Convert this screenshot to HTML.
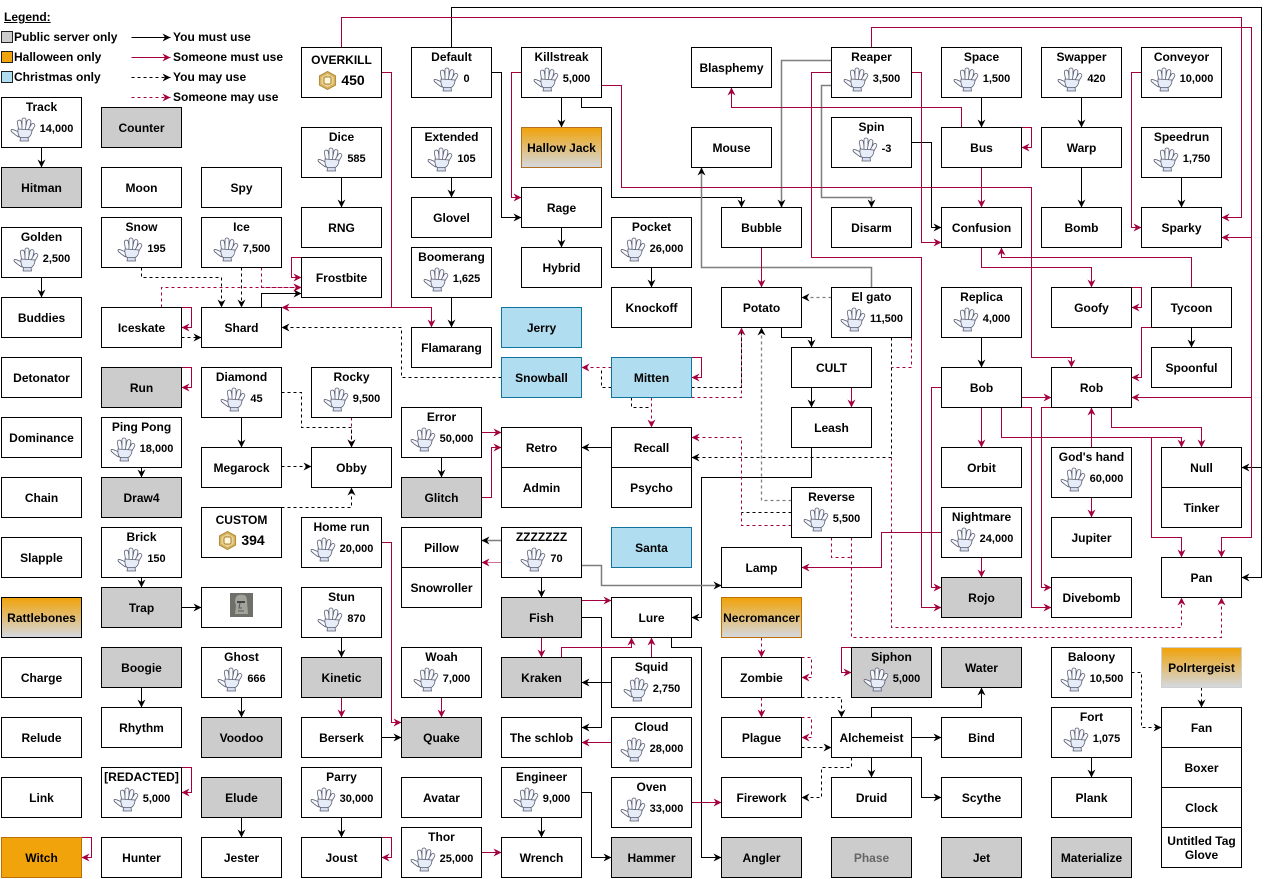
<!DOCTYPE html>
<html><head><meta charset="utf-8">
<style>
body{margin:0;width:1270px;height:879px;background:#fff;position:relative;overflow:hidden;font-family:"Liberation Sans",Arial,sans-serif;font-weight:bold;color:#000}
.b{position:absolute;width:81px;height:41px;box-sizing:border-box;border:1px solid #000;background:#fff;display:flex;align-items:center;justify-content:center;text-align:center;font-size:12px;line-height:14px}
.g{height:51px;display:block}
.g .t{position:absolute;left:0;right:0;top:2px;text-align:center;white-space:nowrap}
.g .r{position:absolute;left:0;right:0;top:18px;height:26px;display:flex;align-items:center;justify-content:center;font-size:11px}
.gi{width:27px;height:25px;margin-right:3px;flex:none}
.x .t{top:5px}
.x .r{top:22px;height:20px;font-size:14px}
.ri{width:19px;height:19px;margin-right:4px;flex:none}
.gr{background:#ccc}
.bl{background:#b1ddf0;border-color:#10739e}
.or{background:#f0a30a;border-color:#bd7000}
.gd{background:linear-gradient(#f0a30a,#d4d8e0)}
.lg{position:absolute;font-size:12px;line-height:14px;white-space:nowrap}
.sq{position:absolute;width:12px;height:12px;box-sizing:border-box;border:1.5px solid #222}
</style></head><body>
<svg width="0" height="0" style="position:absolute"><defs>
<symbol id="gl" viewBox="0 0 27 25"><g stroke="#5a5f70" stroke-width="0.8" fill="#f7f9fe" stroke-linejoin="round">
<path d="M9 15 C6 14 3 12 1.5 12.5 C0.5 13 1 14.5 2.5 15.5 C4.5 17 6.5 19 9 20 Z"/>
<rect x="8" y="3" width="4" height="11" rx="2" transform="rotate(-10 10 9)"/>
<rect x="12" y="1" width="4" height="13" rx="2"/>
<rect x="16" y="2.5" width="4" height="12" rx="2" transform="rotate(12 18 9)"/>
<rect x="19.5" y="6" width="3.8" height="10" rx="1.9" transform="rotate(30 21.4 11)"/>
<path d="M8 12 L22 13 C22 17 20 20 17 21 L11 21 C8.5 20 7.5 16 8 12 Z" fill="#e6ecf8"/>
<path d="M10.5 20.5 L18 20.5 L18.5 24 L10 24 Z" fill="#d6def0"/></g></symbol>
<symbol id="rb" viewBox="0 0 20 20"><polygon points="10,0.5 18.5,5.2 18.5,14.8 10,19.5 1.5,14.8 1.5,5.2" fill="#d6b25e" stroke="#b08a38"/><polygon points="10,3 16.3,6.5 16.3,13.5 10,17 3.7,13.5 3.7,6.5" fill="#ead49a"/><rect x="6.3" y="6.3" width="7.4" height="7.4" rx="1.6" fill="#fff7e0" stroke="#b08a38" stroke-width="1.2"/></symbol>
<marker id="ak" markerWidth="9" markerHeight="9" refX="8" refY="4.5" orient="auto" markerUnits="userSpaceOnUse"><path d="M0,0.5 L8,4.5 L0,8.5 L2.5,4.5z" fill="#000"/></marker>
<marker id="ac" markerWidth="9" markerHeight="9" refX="8" refY="4.5" orient="auto" markerUnits="userSpaceOnUse"><path d="M0,0.5 L8,4.5 L0,8.5 L2.5,4.5z" fill="#a50040"/></marker>
</defs></svg>

<svg width="1270" height="879" style="position:absolute;left:0;top:0">
<g transform="translate(0.5,0.5)" fill="none" stroke-width="1">
<g stroke="#000" marker-end="url(#ak)">
<path d="M131 37H170"/>
<path d="M41 147V167"/><path d="M41 277V297"/><path d="M141 467V477"/><path d="M141 577V587"/><path d="M181 607H201"/><path d="M141 687V707"/><path d="M241 697V717"/><path d="M241 817V837"/><path d="M241 417V447"/><path d="M341 177V207"/><path d="M341 637V657"/><path d="M381 737H401"/><path d="M341 817V837"/><path d="M451 177V197"/><path d="M451 297V327"/><path d="M491 72H501V217H521"/><path d="M561 97V127"/><path d="M561 227V247"/><path d="M451 47V7H1261V577H1241"/><path d="M1261 467H1241"/><path d="M581 97V107H611V197H741V207"/><path d="M441 457V477"/><path d="M611 447H581"/><path d="M541 577V597"/><path d="M581 617H601V727H581"/><path d="M611 682H581"/><path d="M541 817V837"/><path d="M581 792H591V857H611"/><path d="M651 267V287"/><path d="M781 327V337H811V347"/><path d="M811 387V407"/><path d="M811 447V477H701V617H691"/><path d="M671 637V647H701V857H721"/><path d="M911 142H931V227H941"/><path d="M981 97V127"/><path d="M1081 97V127"/><path d="M1081 167V207"/><path d="M1181 177V207"/><path d="M981 337V367"/><path d="M1191 327V347"/><path d="M871 717V707H981V687"/><path d="M911 737H941"/><path d="M871 757V777"/><path d="M911 757H921V797H941"/><path d="M1091 757V777"/><path d="M261 307V293H301"/>
</g>
<g stroke="#7f7f7f" stroke-width="1.5" marker-end="url(#ak)">
<path d="M831 60H781V207"/><path d="M831 85H821V197H871V207"/><path d="M871 287V267H701V167"/><path d="M501 540H481"/><path d="M581 565H601V585H721"/>
</g>
<g stroke="#a50040" marker-end="url(#ac)">
<path d="M131 57H170"/>
<path d="M381 72H391V307H431V327"/><path d="M391 307H281"/><path d="M341 47V17H1241V217H1221"/><path d="M381 542H391V722H401"/><path d="M181 307H191V327H181"/><path d="M181 367H191V387H181"/><path d="M181 767H191V792H181"/><path d="M81 837H91V857H81"/><path d="M381 837H391V857H381"/><path d="M301 257H291V277H301"/><path d="M341 697V717"/><path d="M441 697V717"/><path d="M481 852H501"/><path d="M521 72H511V197H521"/><path d="M601 85H621V187H1031V357H1071V367"/><path d="M481 432H501"/><path d="M481 497H491V447H501"/><path d="M761 247V287"/><path d="M851 387V407"/><path d="M691 357H701V377H691"/><path d="M541 637V657"/><path d="M581 600H611"/><path d="M561 657V647H631V637"/><path d="M651 657V637"/><path d="M611 742H581"/><path d="M691 802H721"/><path d="M851 647H841V672H851"/><path d="M911 72H921V242H941"/><path d="M831 72H811V257H921V607H941"/><path d="M871 47V27H1251V237H1221"/><path d="M1251 237V397H1131"/><path d="M1251 397V537H1221V557"/><path d="M961 127V107H731V87"/><path d="M1021 127H1031V147H1021"/><path d="M981 167V207"/><path d="M1141 72H1131V227H1141"/><path d="M1191 287V257H1001V247"/><path d="M981 247V267H1091V287"/><path d="M1131 287H1141V307H1131"/><path d="M1151 327H1141V377H1131"/><path d="M981 407V447"/><path d="M1021 397H1051"/><path d="M1001 407V437H1181V447"/><path d="M1151 437V537H1181V557"/><path d="M1111 407V427H1201V447"/><path d="M1021 407H1031V607H1051"/><path d="M1051 407H1041V587H1051"/><path d="M1091 447V407"/><path d="M1091 497V517"/><path d="M981 557V577"/><path d="M941 387H931V587H941"/><path d="M941 532H881V567H801"/><path d="M501 562H481" stroke="#d0709a"/>
</g>
<g stroke="#a50040" stroke-dasharray="3 3">
<path d="M131 97H170" marker-end="url(#ac)"/>
<path d="M261 267V287H301" marker-end="url(#ac)"/><path d="M161 307V287H301" marker-end="url(#ac)"/><path d="M351 417V447" marker-end="url(#ac)"/><path d="M691 397H741V327" marker-end="url(#ac)"/><path d="M651 397V427" marker-end="url(#ac)"/><path d="M611 367H581" marker-end="url(#ac)"/><path d="M791 525H741V437H691" marker-end="url(#ac)"/><path d="M911 337V367H891"/><path d="M891 367V627H1181V597" marker-end="url(#ac)"/><path d="M851 537V637H1221V597" marker-end="url(#ac)"/><path d="M831 537V557H851"/><path d="M761 637V657" marker-end="url(#ac)"/><path d="M761 697V717" marker-end="url(#ac)"/><path d="M801 657H811V677H801" marker-end="url(#ac)"/><path d="M801 717H811V737H801" marker-end="url(#ac)"/><path d="M851 757V767H821"/>
</g>
<g stroke="#000" stroke-dasharray="3 3">
<path d="M131 77H170" marker-end="url(#ak)"/>
<path d="M141 267V277H221V307" marker-end="url(#ak)"/><path d="M241 267V307" marker-end="url(#ak)"/><path d="M181 337H201" marker-end="url(#ak)"/><path d="M501 377H401V327H281" marker-end="url(#ak)"/><path d="M281 392H301V427H351V447" marker-end="url(#ak)"/><path d="M281 466H311" marker-end="url(#ak)"/><path d="M281 507H351V487" marker-end="url(#ak)"/><path d="M691 387H741V332"/><path d="M631 397V407H651"/><path d="M611 387H601V367"/><path d="M891 337V457H691" marker-end="url(#ak)"/><path d="M791 512H741"/><path d="M801 697H841V717" marker-end="url(#ak)"/><path d="M801 747H831" marker-end="url(#ak)"/><path d="M851 757V767H821V797H801" marker-end="url(#ak)"/><path d="M1131 672H1141V727H1161" marker-end="url(#ak)"/><path d="M1201 687V707" marker-end="url(#ak)"/>
</g>
<g stroke="#7f7f7f" stroke-dasharray="3 3" stroke-width="1.3" marker-end="url(#ak)">
<path d="M831 297H801"/><path d="M791 500H761V327"/>
</g>
</g></svg>

<div class="lg" style="left:4px;top:10px;text-decoration:underline">Legend:</div>
<div class="sq" style="left:1px;top:31px;background:#ccc"></div><div class="lg" style="left:14px;top:30px">Public server only</div>
<div class="sq" style="left:1px;top:51px;background:#f0a30a"></div><div class="lg" style="left:14px;top:50px">Halloween only</div>
<div class="sq" style="left:1px;top:71px;background:#b1ddf0"></div><div class="lg" style="left:14px;top:70px">Christmas only</div>
<div class="lg" style="left:173px;top:30px">You must use</div>
<div class="lg" style="left:173px;top:50px">Someone must use</div>
<div class="lg" style="left:173px;top:70px">You may use</div>
<div class="lg" style="left:173px;top:90px">Someone may use</div>

<div class="b gr" style="left:1px;top:167px">Hitman</div>
<div class="b" style="left:1px;top:297px">Buddies</div>
<div class="b" style="left:1px;top:357px">Detonator</div>
<div class="b" style="left:1px;top:417px">Dominance</div>
<div class="b" style="left:1px;top:477px">Chain</div>
<div class="b" style="left:1px;top:537px">Slapple</div>
<div class="b gd" style="left:1px;top:597px">Rattlebones</div>
<div class="b" style="left:1px;top:657px">Charge</div>
<div class="b" style="left:1px;top:717px">Relude</div>
<div class="b" style="left:1px;top:777px">Link</div>
<div class="b or" style="left:1px;top:837px">Witch</div>
<div class="b gr" style="left:101px;top:107px">Counter</div>
<div class="b" style="left:101px;top:167px">Moon</div>
<div class="b" style="left:101px;top:307px">Iceskate</div>
<div class="b gr" style="left:101px;top:367px">Run</div>
<div class="b gr" style="left:101px;top:477px">Draw4</div>
<div class="b gr" style="left:101px;top:587px">Trap</div>
<div class="b gr" style="left:101px;top:647px">Boogie</div>
<div class="b" style="left:101px;top:707px">Rhythm</div>
<div class="b" style="left:101px;top:837px">Hunter</div>
<div class="b" style="left:201px;top:167px">Spy</div>
<div class="b" style="left:201px;top:307px">Shard</div>
<div class="b" style="left:201px;top:447px">Megarock</div>
<div class="b" style="left:201px;top:587px"></div>
<div class="b gr" style="left:201px;top:717px">Voodoo</div>
<div class="b gr" style="left:201px;top:777px">Elude</div>
<div class="b" style="left:201px;top:837px">Jester</div>
<div class="b" style="left:301px;top:207px">RNG</div>
<div class="b" style="left:301px;top:257px">Frostbite</div>
<div class="b" style="left:311px;top:447px">Obby</div>
<div class="b gr" style="left:301px;top:657px">Kinetic</div>
<div class="b" style="left:301px;top:717px">Berserk</div>
<div class="b" style="left:301px;top:837px">Joust</div>
<div class="b" style="left:411px;top:197px">Glovel</div>
<div class="b" style="left:411px;top:327px">Flamarang</div>
<div class="b gr" style="left:401px;top:477px">Glitch</div>
<div class="b" style="left:401px;top:527px">Pillow</div>
<div class="b" style="left:401px;top:567px">Snowroller</div>
<div class="b gr" style="left:401px;top:717px">Quake</div>
<div class="b" style="left:401px;top:777px">Avatar</div>
<div class="b gd" style="left:521px;top:127px;border-color:#b07020">Hallow Jack</div>
<div class="b" style="left:521px;top:187px">Rage</div>
<div class="b" style="left:521px;top:247px">Hybrid</div>
<div class="b bl" style="left:501px;top:307px">Jerry</div>
<div class="b bl" style="left:501px;top:357px">Snowball</div>
<div class="b" style="left:501px;top:427px">Retro</div>
<div class="b" style="left:501px;top:467px">Admin</div>
<div class="b gr" style="left:501px;top:597px">Fish</div>
<div class="b gr" style="left:501px;top:657px">Kraken</div>
<div class="b" style="left:501px;top:717px">The schlob</div>
<div class="b" style="left:501px;top:837px">Wrench</div>
<div class="b" style="left:611px;top:287px">Knockoff</div>
<div class="b bl" style="left:611px;top:357px">Mitten</div>
<div class="b" style="left:611px;top:427px">Recall</div>
<div class="b" style="left:611px;top:467px">Psycho</div>
<div class="b bl" style="left:611px;top:527px">Santa</div>
<div class="b" style="left:611px;top:597px">Lure</div>
<div class="b gr" style="left:611px;top:837px">Hammer</div>
<div class="b" style="left:691px;top:47px">Blasphemy</div>
<div class="b" style="left:691px;top:127px">Mouse</div>
<div class="b" style="left:721px;top:207px">Bubble</div>
<div class="b" style="left:721px;top:287px">Potato</div>
<div class="b" style="left:721px;top:547px">Lamp</div>
<div class="b gd" style="left:721px;top:597px;border-color:#c07000">Necromancer</div>
<div class="b" style="left:721px;top:657px">Zombie</div>
<div class="b" style="left:721px;top:717px">Plague</div>
<div class="b" style="left:721px;top:777px">Firework</div>
<div class="b gr" style="left:721px;top:837px">Angler</div>
<div class="b" style="left:791px;top:347px">CULT</div>
<div class="b" style="left:791px;top:407px">Leash</div>
<div class="b" style="left:831px;top:207px">Disarm</div>
<div class="b" style="left:831px;top:717px">Alchemeist</div>
<div class="b" style="left:831px;top:777px">Druid</div>
<div class="b gr" style="left:831px;top:837px;color:#666">Phase</div>
<div class="b" style="left:941px;top:127px">Bus</div>
<div class="b" style="left:941px;top:207px">Confusion</div>
<div class="b" style="left:941px;top:367px">Bob</div>
<div class="b" style="left:941px;top:447px">Orbit</div>
<div class="b gr" style="left:941px;top:577px">Rojo</div>
<div class="b gr" style="left:941px;top:647px">Water</div>
<div class="b" style="left:941px;top:717px">Bind</div>
<div class="b" style="left:941px;top:777px">Scythe</div>
<div class="b gr" style="left:941px;top:837px">Jet</div>
<div class="b" style="left:1041px;top:127px">Warp</div>
<div class="b" style="left:1041px;top:207px">Bomb</div>
<div class="b" style="left:1051px;top:287px">Goofy</div>
<div class="b" style="left:1051px;top:367px">Rob</div>
<div class="b" style="left:1051px;top:517px">Jupiter</div>
<div class="b" style="left:1051px;top:577px">Divebomb</div>
<div class="b" style="left:1051px;top:777px">Plank</div>
<div class="b gr" style="left:1051px;top:837px">Materialize</div>
<div class="b" style="left:1141px;top:207px">Sparky</div>
<div class="b" style="left:1151px;top:287px">Tycoon</div>
<div class="b" style="left:1151px;top:347px">Spoonful</div>
<div class="b" style="left:1161px;top:447px">Null</div>
<div class="b" style="left:1161px;top:487px">Tinker</div>
<div class="b" style="left:1161px;top:557px">Pan</div>
<div class="b gd" style="left:1161px;top:647px;border-color:#d0d0d0">Polrtergeist</div>
<div class="b" style="left:1161px;top:707px">Fan</div>
<div class="b" style="left:1161px;top:747px">Boxer</div>
<div class="b" style="left:1161px;top:787px">Clock</div>
<div class="b" style="left:1161px;top:827px">Untitled Tag<br>Glove</div>

<div class="b g" style="left:1px;top:97px"><div class="t">Track</div><div class="r"><svg class="gi"><use href="#gl"/></svg>14,000</div></div>
<div class="b g" style="left:1px;top:227px"><div class="t">Golden</div><div class="r"><svg class="gi"><use href="#gl"/></svg>2,500</div></div>
<div class="b g" style="left:101px;top:217px"><div class="t">Snow</div><div class="r"><svg class="gi"><use href="#gl"/></svg>195</div></div>
<div class="b g" style="left:101px;top:417px"><div class="t">Ping Pong</div><div class="r"><svg class="gi"><use href="#gl"/></svg>18,000</div></div>
<div class="b g" style="left:101px;top:527px"><div class="t">Brick</div><div class="r"><svg class="gi"><use href="#gl"/></svg>150</div></div>
<div class="b g" style="left:101px;top:767px"><div class="t">[REDACTED]</div><div class="r"><svg class="gi"><use href="#gl"/></svg>5,000</div></div>
<div class="b g" style="left:201px;top:217px"><div class="t">Ice</div><div class="r"><svg class="gi"><use href="#gl"/></svg>7,500</div></div>
<div class="b g" style="left:201px;top:367px"><div class="t">Diamond</div><div class="r"><svg class="gi"><use href="#gl"/></svg>45</div></div>
<div class="b g" style="left:201px;top:647px"><div class="t">Ghost</div><div class="r"><svg class="gi"><use href="#gl"/></svg>666</div></div>
<div class="b g" style="left:301px;top:127px"><div class="t">Dice</div><div class="r"><svg class="gi"><use href="#gl"/></svg>585</div></div>
<div class="b g" style="left:301px;top:517px"><div class="t">Home run</div><div class="r"><svg class="gi"><use href="#gl"/></svg>20,000</div></div>
<div class="b g" style="left:301px;top:587px"><div class="t">Stun</div><div class="r"><svg class="gi"><use href="#gl"/></svg>870</div></div>
<div class="b g" style="left:301px;top:767px"><div class="t">Parry</div><div class="r"><svg class="gi"><use href="#gl"/></svg>30,000</div></div>
<div class="b g" style="left:311px;top:367px"><div class="t">Rocky</div><div class="r"><svg class="gi"><use href="#gl"/></svg>9,500</div></div>
<div class="b g" style="left:411px;top:47px"><div class="t">Default</div><div class="r"><svg class="gi"><use href="#gl"/></svg>0</div></div>
<div class="b g" style="left:411px;top:127px"><div class="t">Extended</div><div class="r"><svg class="gi"><use href="#gl"/></svg>105</div></div>
<div class="b g" style="left:411px;top:247px"><div class="t">Boomerang</div><div class="r"><svg class="gi"><use href="#gl"/></svg>1,625</div></div>
<div class="b g" style="left:401px;top:407px"><div class="t">Error</div><div class="r"><svg class="gi"><use href="#gl"/></svg>50,000</div></div>
<div class="b g" style="left:401px;top:647px"><div class="t">Woah</div><div class="r"><svg class="gi"><use href="#gl"/></svg>7,000</div></div>
<div class="b g" style="left:401px;top:827px"><div class="t">Thor</div><div class="r"><svg class="gi"><use href="#gl"/></svg>25,000</div></div>
<div class="b g" style="left:521px;top:47px"><div class="t">Killstreak</div><div class="r"><svg class="gi"><use href="#gl"/></svg>5,000</div></div>
<div class="b g" style="left:501px;top:527px"><div class="t">ZZZZZZZ</div><div class="r"><svg class="gi"><use href="#gl"/></svg>70</div></div>
<div class="b g" style="left:501px;top:767px"><div class="t">Engineer</div><div class="r"><svg class="gi"><use href="#gl"/></svg>9,000</div></div>
<div class="b g" style="left:611px;top:217px"><div class="t">Pocket</div><div class="r"><svg class="gi"><use href="#gl"/></svg>26,000</div></div>
<div class="b g" style="left:611px;top:657px"><div class="t">Squid</div><div class="r"><svg class="gi"><use href="#gl"/></svg>2,750</div></div>
<div class="b g" style="left:611px;top:717px"><div class="t">Cloud</div><div class="r"><svg class="gi"><use href="#gl"/></svg>28,000</div></div>
<div class="b g" style="left:611px;top:777px"><div class="t">Oven</div><div class="r"><svg class="gi"><use href="#gl"/></svg>33,000</div></div>
<div class="b g" style="left:791px;top:487px"><div class="t">Reverse</div><div class="r"><svg class="gi"><use href="#gl"/></svg>5,500</div></div>
<div class="b g" style="left:831px;top:47px"><div class="t">Reaper</div><div class="r"><svg class="gi"><use href="#gl"/></svg>3,500</div></div>
<div class="b g" style="left:831px;top:117px"><div class="t">Spin</div><div class="r"><svg class="gi"><use href="#gl"/></svg>-3</div></div>
<div class="b g" style="left:831px;top:287px"><div class="t">El gato</div><div class="r"><svg class="gi"><use href="#gl"/></svg>11,500</div></div>
<div class="b g gr" style="left:851px;top:647px"><div class="t">Siphon</div><div class="r"><svg class="gi"><use href="#gl"/></svg>5,000</div></div>
<div class="b g" style="left:941px;top:47px"><div class="t">Space</div><div class="r"><svg class="gi"><use href="#gl"/></svg>1,500</div></div>
<div class="b g" style="left:941px;top:287px"><div class="t">Replica</div><div class="r"><svg class="gi"><use href="#gl"/></svg>4,000</div></div>
<div class="b g" style="left:941px;top:507px"><div class="t">Nightmare</div><div class="r"><svg class="gi"><use href="#gl"/></svg>24,000</div></div>
<div class="b g" style="left:1041px;top:47px"><div class="t">Swapper</div><div class="r"><svg class="gi"><use href="#gl"/></svg>420</div></div>
<div class="b g" style="left:1051px;top:447px"><div class="t">God's hand</div><div class="r"><svg class="gi"><use href="#gl"/></svg>60,000</div></div>
<div class="b g" style="left:1051px;top:647px"><div class="t">Baloony</div><div class="r"><svg class="gi"><use href="#gl"/></svg>10,500</div></div>
<div class="b g" style="left:1051px;top:707px"><div class="t">Fort</div><div class="r"><svg class="gi"><use href="#gl"/></svg>1,075</div></div>
<div class="b g" style="left:1141px;top:47px"><div class="t">Conveyor</div><div class="r"><svg class="gi"><use href="#gl"/></svg>10,000</div></div>
<div class="b g" style="left:1141px;top:127px"><div class="t">Speedrun</div><div class="r"><svg class="gi"><use href="#gl"/></svg>1,750</div></div>

<div class="b g x" style="left:301px;top:47px"><div class="t">OVERKILL</div><div class="r"><svg class="ri"><use href="#rb"/></svg>450</div></div>
<div class="b g x" style="left:201px;top:507px"><div class="t">CUSTOM</div><div class="r"><svg class="ri"><use href="#rb"/></svg>394</div></div>

<svg style="position:absolute;left:230px;top:593px" width="23" height="24"><rect width="23" height="24" fill="#6f6f6a"/><path d="M6 4 Q8 1 14 2 Q17 3 17 8 L18 21 L5 21 L6 12 Q4 9 6 4Z" fill="#a3a39c"/><path d="M7 9 H15" stroke="#444" stroke-width="2"/><path d="M10 10 L9 15 L12 15" stroke="#555" fill="none"/><path d="M8 18 H14" stroke="#555"/></svg>
</body></html>
